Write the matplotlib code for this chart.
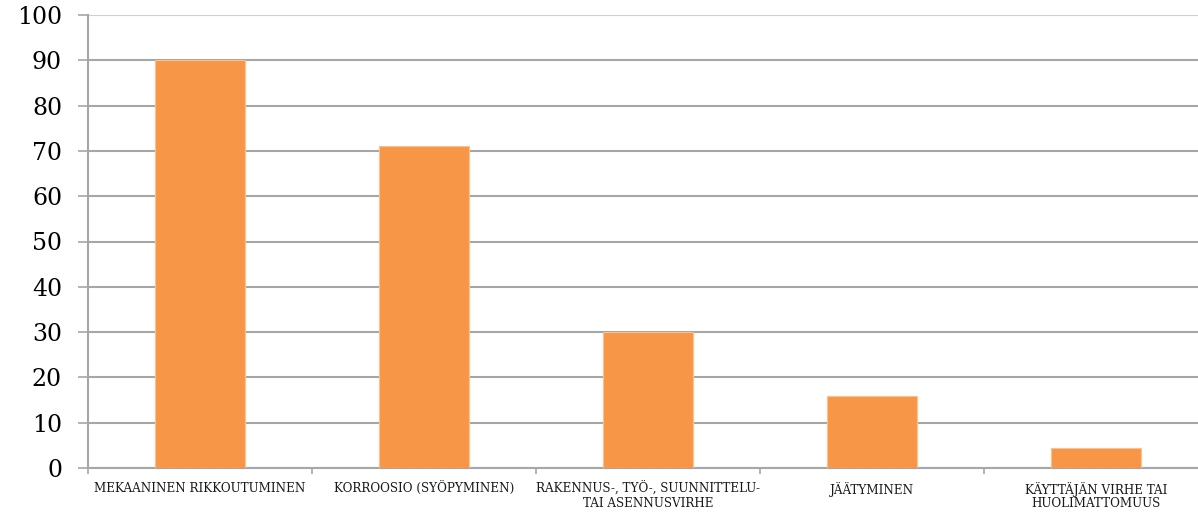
import numpy as np
import matplotlib
matplotlib.use("Agg")
import matplotlib.pyplot as plt

# vikojen syyt ja lukumäärät
categories = [
    "MEKAANINEN RIKKOUTUMINEN",
    "KORROOSIO (SYÖPYMINEN)",
    "RAKENNUS-, TYÖ-, SUUNNITTELU-\nTAI ASENNUSVIRHE",
    "JÄÄTYMINEN",
    "KÄYTTÄJÄN VIRHE TAI\nHUOLIMATTOMUUS",
]
values = [90, 71, 30, 16, 4.5]
yticks = [0, 10, 20, 30, 40, 50, 60, 70, 80, 90, 100]

bar_color = "#F79646"
grid_color = "#A6A6A6"

fig = plt.figure(figsize=(11.98, 5.12), dpi=100)
ax = fig.add_axes([88 / 1198, 44 / 512, 1 - 88 / 1198, (468 - 15) / 512])

x = np.arange(len(categories))
ax.bar(x, values, width=0.4, color=bar_color, edgecolor="#FAC090", linewidth=0.8, zorder=3)

# kaavio jatkuu hieman kuvan oikean reunan yli
ax.set_xlim(-0.5, len(categories) - 0.5 - 10 / 224)
ax.set_ylim(0, 100)
ax.set_yticks(yticks)
ax.set_yticklabels([str(v) for v in yticks], family="DejaVu Serif", fontsize=17)
ax.yaxis.grid(True, color=grid_color, linewidth=1.5, zorder=0)
ax.get_ygridlines()[-1].set_color("#D0D0D0")
ax.tick_params(axis="y", length=7.2, width=1.2, color=grid_color, pad=11.5)

# kategoriarajat tikkeinä
ax.set_xticks(np.arange(len(categories)) - 0.5)
ax.set_xticklabels([])
ax.tick_params(axis="x", which="major", length=4, width=1.2, color=grid_color)
ax.set_xticks(x, minor=True)
ax.set_xticklabels(categories, minor=True, family="DejaVu Serif", fontstretch="condensed",
                   fontsize=9.5, linespacing=1.05, color="#1a1a1a")
ax.tick_params(axis="x", which="minor", length=0, pad=10)

for side in ["top", "right"]:
    ax.spines[side].set_visible(False)
ax.spines["left"].set_color(grid_color)
ax.spines["left"].set_linewidth(1.5)
ax.spines["bottom"].set_color(grid_color)
ax.spines["bottom"].set_linewidth(1.5)

plt.savefig("out.png", dpi=100)
